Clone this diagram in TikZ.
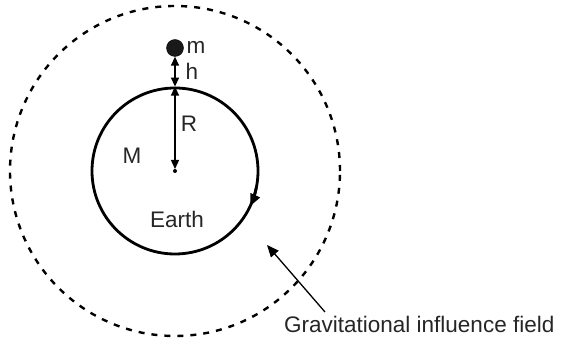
\documentclass[tikz,border=0pt]{standalone}
\usepackage{fontspec}
\setmainfont{Liberation Sans}
\usetikzlibrary{arrows.meta}
\begin{document}
\begin{tikzpicture}[x=1pt, y=1pt, every node/.style={font=\fontsize{22.5}{26}\selectfont, text=black!85, inner sep=0pt}]
\tikzset{
  earth/.style={draw, circle, line width=2.8pt, minimum size=166pt},
  field/.style={draw, circle, line width=2.4pt, dash pattern=on 6pt off 7pt, minimum size=330pt},
  mass/.style={draw, circle, fill=black!90, minimum size=17pt},
  dimline/.style={{Triangle[length=9pt,width=8pt]}-{Triangle[length=9pt,width=8pt]}, line width=1.4pt},
  pointer/.style={-{Triangle[length=12pt,width=10pt]}, line width=1.3pt}
}
\useasboundingbox (0,0) rectangle (566,339);
\node[field] (gfield) at (175,168) {};
\node[earth] (earthc) at (175,168) {};
\coordinate (centre) at (175,168);
\node[mass] (ball) at (175,291) {};
\fill (centre) circle (2pt);

\draw[dimline] (ball.south) -- (earthc.north);
\draw[dimline, shorten >=2pt] (earthc.north) -- (centre);
\draw[-{Triangle[length=12pt,width=10pt]}, line width=2.8pt] (centre) ++(-12:83) arc (-12:-25:83);

\node (mlabel) at (196,292) {m};
\node (hlabel) at (192,268) {h};
\node (rlabel) at (189,215) {R};
\node (bigm) at (132,183) {M};
\node (earthlabel) at (177,120) {Earth};

\node[anchor=base west] (fieldlabel) at (284,6) {Gravitational influence field};
\coordinate (tail) at (325,27);
\coordinate (tip) at (267,94);
\draw[pointer] (tail) -- (tip);
\end{tikzpicture}
\end{document}
